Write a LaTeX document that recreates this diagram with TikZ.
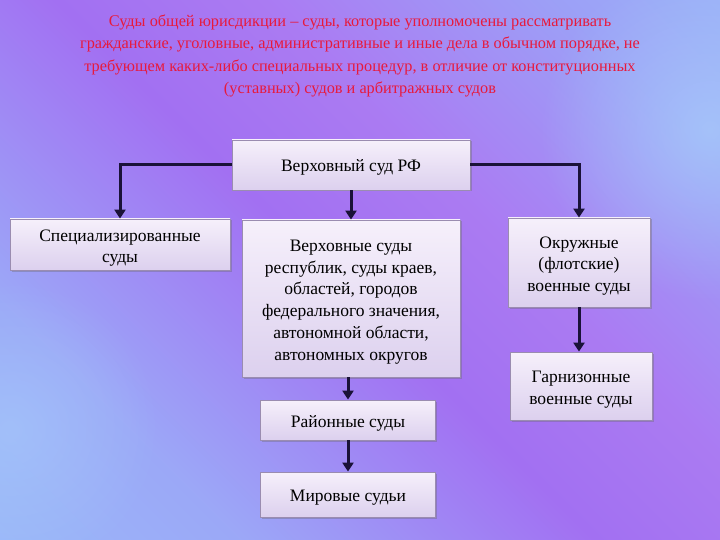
\documentclass[tikz,border=0pt]{standalone}
\usepackage{fontspec}
\setmainfont{Liberation Serif}
\usetikzlibrary{arrows.meta,shadows,fadings}
\definecolor{bgblue}{HTML}{98C6FA}
\definecolor{bgpurple}{HTML}{A270F2}
\definecolor{bgpink}{HTML}{C49CF4}
\definecolor{boxtop}{HTML}{F6F0FB}
\definecolor{boxbot}{HTML}{DCD0EE}
\definecolor{boxline}{HTML}{9A8CB0}
\definecolor{titlered}{HTML}{E8193C}
\definecolor{arrowc}{HTML}{1A1238}
\pgfdeclarehorizontalshading{bgshade}{100bp}{color(0bp)=(bgblue); color(28bp)=(bgblue!65!bgpurple); color(48bp)=(bgpurple); color(60bp)=(bgpurple!75!bgpink); color(76bp)=(bgblue!55!bgpurple); color(100bp)=(bgblue)}
\tikzfading[name=softglow, inner color=transparent!0, outer color=transparent!100]
\tikzset{
  court/.style={draw=boxline, line width=0.8pt, top color=boxtop, bottom color=boxbot,
    inner sep=0pt,
    drop shadow={shadow xshift=1.5pt, shadow yshift=-1.5pt, opacity=0.35, fill=black!60}},
  courttext/.style={align=center, inner sep=0pt, yshift=-3.5pt, font=\fontsize{17.5}{21.8}\selectfont},
  conn/.style={draw=arrowc, line width=3pt, -{Triangle[length=9pt,width=11pt]}},
}
\begin{document}
\begin{tikzpicture}[x=1pt,y=-1pt]
\useasboundingbox (0,0) rectangle (720,540);
\shade[shading=bgshade, shading angle=45] (0,0) rectangle (720,540);
\fill[bgblue!85!white, path fading=softglow, opacity=0.7] (710,130) circle (170pt);
\fill[bgblue!85!white, path fading=softglow, opacity=0.5] (10,430) circle (150pt);
\node (title) [text=titlered, align=center, font=\fontsize{16.3}{22.3}\selectfont] at (360,56)
  {Суды общей юрисдикции – суды, которые уполномочены рассматривать\\
   гражданские, уголовные, административные и иные дела в обычном порядке, не\\
   требующем каких-либо специальных процедур, в отличие от конституционных\\
   (уставных) судов и арбитражных судов};
\node (top) [court, minimum width=238pt, minimum height=50pt,
  label={[courttext, yshift=1.5pt]center:Верховный суд РФ}] at (351,165) {};
\node (spec) [court, minimum width=220pt, minimum height=51pt,
  label={[courttext]center:Специализированные\\суды}] at (120,244.5) {};
\node (mid) [court, minimum width=218pt, minimum height=157pt,
  label={[courttext]center:Верховные суды\\республик, суды краев,\\областей, городов\\федерального значения,\\автономной области,\\автономных округов}] at (351,298.5) {};
\node (okr) [court, minimum width=142pt, minimum height=89pt,
  label={[courttext]center:Окружные\\(флотские)\\военные суды}] at (579,262.5) {};
\node (gar) [court, minimum width=142pt, minimum height=68pt,
  label={[courttext]center:Гарнизонные\\военные суды}] at (581,386) {};
\node (rai) [court, minimum width=175pt, minimum height=40pt,
  label={[courttext, yshift=0.5pt]center:Районные суды}] at (348,420) {};
\node (mir) [court, minimum width=175pt, minimum height=45pt,
  label={[courttext]center:Мировые судьи}] at (348,494.5) {};
\draw[conn] (top.west) -| (spec.north);
\draw[conn] (top.east) -| (okr.north);
\draw[conn] (top.south) -- (mid.north);
\draw[conn] (mid.south -| rai.north) -- (rai.north);
\draw[conn] (rai.south) -- (mir.north);
\draw[conn] (okr.south) -- (okr.south |- gar.north);
\end{tikzpicture}
\end{document}
